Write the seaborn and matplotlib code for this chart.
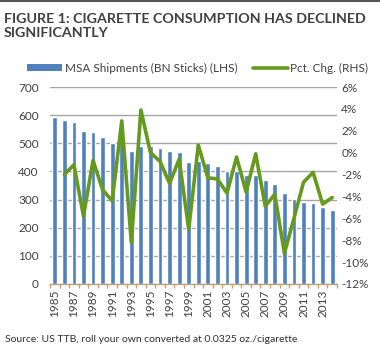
import matplotlib
matplotlib.use("Agg")
import matplotlib.pyplot as plt
import seaborn as sns
import pandas as pd
import numpy as np
from matplotlib.lines import Line2D
from matplotlib.patches import Patch

years = list(range(1985, 2015))
shipments = [592, 581, 575, 542, 540, 522, 502, 515, 471, 489, 492, 485, 471, 469, 435,
             438, 429, 418, 403, 403, 388, 387, 368, 356, 323, 302, 293, 287, 275, 263]
pct_chg = [np.nan, -2.0, -1.1, -5.8, -0.7, -3.4, -4.4, 2.9, -8.2, 3.9, 0.0, -0.8, -2.8, -0.6, -7.0,
           0.7, -2.3, -2.4, -3.7, -0.4, -3.6, -0.1, -4.9, -3.8, -9.2, -6.0, -2.7, -1.8, -4.7, -4.1]
left_ticks = [0, 100, 200, 300, 400, 500, 600, 700]
right_ticks = [-12, -10, -8, -6, -4, -2, 0, 2, 4, 6]

title = "FIGURE 1: CIGARETTE CONSUMPTION HAS DECLINED\nSIGNIFICANTLY"
bar_label = "MSA Shipments (BN Sticks) (LHS)"
line_label = "Pct. Chg. (RHS)"
source = "Source: US TTB, roll your own converted at 0.0325 oz./cigarette"

sns.set_theme(style="white")
plt.rcParams['font.family'] = ['Lato', 'DejaVu Sans']

BAR = '#4f81bd'
GREEN = '#659a1f'
TXT = '#404040'

df = pd.DataFrame({'year': [str(y) for y in years], 'ship': shipments,
                   'pct': pct_chg, 'pos': np.arange(len(years))})

fig = plt.figure(figsize=(3.8, 3.51), dpi=100)
ax = fig.add_axes([50/380, 1-284/351, 287/380, 197/351])
sns.barplot(data=df, x='year', y='ship', color=BAR, width=0.5, saturation=1, ax=ax, zorder=2)
ax.set_ylim(0, 700)
ax.set_yticks(left_ticks)
ax.set_yticklabels([str(t) for t in left_ticks], fontsize=8.5, color=TXT)
ax.yaxis.grid(True, color='#a6a6a6', lw=1.0)
ax.set_axisbelow(True)
ax.set_xlabel('')
ax.set_ylabel('')
for s in ['left', 'right', 'top']:
    ax.spines[s].set_visible(False)
ax.spines['bottom'].set_color('#bfa27a')
ax.spines['bottom'].set_linewidth(1.0)
ax.tick_params(axis='y', length=0, pad=8)

ax2 = ax.twinx()
sns.lineplot(data=df, x='pos', y='pct', color=GREEN, lw=2.6, ax=ax2)
ax2.set_ylim(-12, 6)
ax2.set_yticks(right_ticks)
ax2.set_yticklabels([f"{t}%" for t in right_ticks], fontsize=8.5, color=TXT)
ax2.tick_params(axis='y', length=0, pad=3)
ax2.set_xlabel('')
ax2.set_ylabel('')
for s in ['left', 'right', 'top', 'bottom']:
    ax2.spines[s].set_visible(False)

ax.set_xlim(-0.5, len(years) - 0.5)
ax.set_xticks(np.arange(0, len(years), 2))
ax.set_xticklabels([str(y) for y in years[::2]], rotation=90, fontsize=8.5, color=TXT)
ax.set_xticks(np.arange(-0.5, len(years), 1), minor=True)
ax.tick_params(axis='x', which='major', length=0, pad=4)
ax.tick_params(axis='x', which='minor', length=3, color='#bfa27a', width=1, bottom=True)

handles = [Patch(facecolor=BAR, edgecolor='none'), Line2D([0], [0], color=GREEN, lw=2.6)]
fig.legend(handles, [bar_label, line_label], loc='center', bbox_to_anchor=(0.52, 1-68/351),
           ncol=2, frameon=False, fontsize=8.5, handlelength=3.0, handleheight=0.5,
           columnspacing=1.3, handletextpad=0.2, labelcolor=TXT)

fig.text(4/380, 1-26/351, title, fontsize=10.3, weight='bold', color=TXT, va='center',
         linespacing=1.2)
fig.text(5/380, 1-340/351, source, fontsize=7.5, color='#303030', va='center')
fig.add_artist(Line2D([0, 1], [0.997, 0.997], color='#555555', lw=1.5, transform=fig.transFigure))

fig.savefig('out.png', dpi=100)
